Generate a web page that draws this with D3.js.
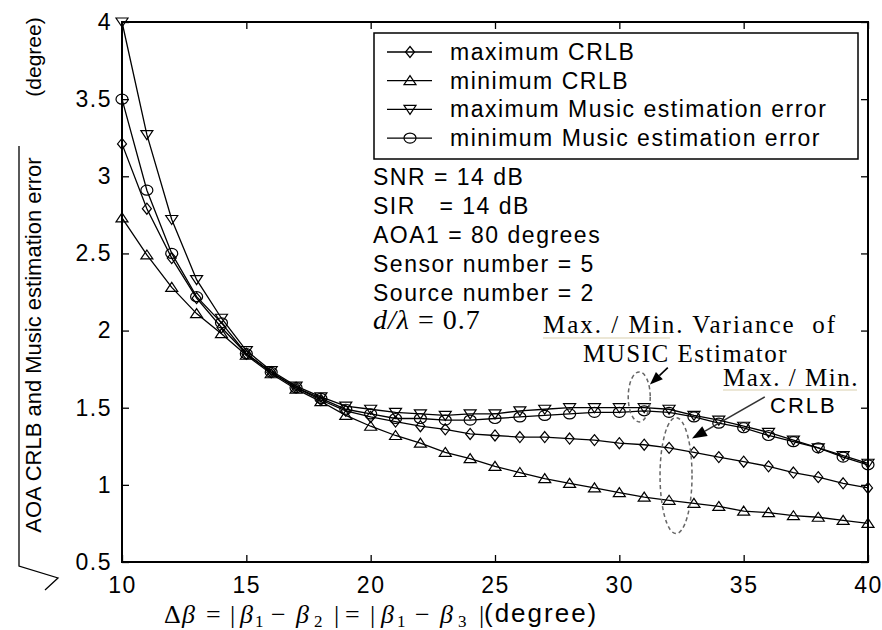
<!DOCTYPE html>
<html>
<head>
<meta charset="utf-8">
<script src="https://cdn.jsdelivr.net/npm/d3@7"></script>
<style>
  body { margin: 0; background: #fff; }
  svg { display: block; }
</style>
</head>
<body>
<svg id="chart" width="882" height="630"></svg>
<script>
// values, one per integer step of delta beta
const deltaBeta = [10, 11, 12, 13, 14, 15, 16, 17, 18, 19, 20, 21, 22, 23, 24, 25,
  26, 27, 28, 29, 30, 31, 32, 33, 34, 35, 36, 37, 38, 39, 40];
const maxCrlb = [3.21, 2.79, 2.47, 2.21, 2.02, 1.85, 1.73, 1.63, 1.55, 1.48, 1.44,
  1.41, 1.38, 1.36, 1.33, 1.32, 1.31, 1.31, 1.30, 1.29, 1.27, 1.26, 1.24, 1.21,
  1.18, 1.15, 1.12, 1.08, 1.05, 1.01, 0.98];
const minCrlb = [2.73, 2.49, 2.28, 2.11, 1.98, 1.84, 1.72, 1.62, 1.54, 1.45, 1.38,
  1.32, 1.27, 1.21, 1.17, 1.12, 1.08, 1.04, 1.01, 0.98, 0.95, 0.92, 0.90, 0.88,
  0.86, 0.83, 0.82, 0.80, 0.79, 0.77, 0.75];
const maxMusic = [4.00, 3.27, 2.72, 2.33, 2.08, 1.87, 1.74, 1.64, 1.57, 1.51, 1.49,
  1.47, 1.46, 1.45, 1.46, 1.46, 1.48, 1.49, 1.50, 1.50, 1.50, 1.50, 1.49, 1.45,
  1.42, 1.38, 1.34, 1.29, 1.24, 1.19, 1.14];
const minMusic = [3.50, 2.91, 2.50, 2.22, 2.05, 1.85, 1.73, 1.63, 1.56, 1.49, 1.46,
  1.43, 1.43, 1.42, 1.42, 1.43, 1.44, 1.45, 1.46, 1.47, 1.47, 1.48, 1.47, 1.44,
  1.40, 1.37, 1.32, 1.28, 1.24, 1.18, 1.13];

const xTicks = [10, 15, 20, 25, 30, 35, 40];
const yTicks = [0.5, 1, 1.5, 2, 2.5, 3, 3.5, 4];
const legendLabels = ["maximum CRLB", "minimum CRLB",
  "maximum Music estimation error", "minimum Music estimation error"];
const paramLines = ["SNR = 14 dB", "SIR   = 14 dB", "AOA1 = 80 degrees",
  "Sensor number = 5", "Source number = 2"];

const series = [
  { name: legendLabels[0], values: maxCrlb, marker: "diamond" },
  { name: legendLabels[1], values: minCrlb, marker: "triUp" },
  { name: legendLabels[2], values: maxMusic, marker: "triDown" },
  { name: legendLabels[3], values: minMusic, marker: "circle" }
];

const markerPaths = {
  diamond: "M0,-5.5L4.5,0L0,5.5L-4.5,0Z",
  triUp: "M0,-5L6,4L-6,4Z",
  triDown: "M0,5L6,-4L-6,-4Z",
  circle: "M-6,0A6,5 0 1,0 6,0A6,5 0 1,0 -6,0Z"
};

const sans = "Arial, 'Liberation Sans', sans-serif";
const serif = "'Times New Roman', 'Liberation Serif', serif";

const svg = d3.select("#chart").attr("font-family", sans);
const x = d3.scaleLinear().domain([10, 40]).range([122, 868]);
const y = d3.scaleLinear().domain([0.5, 4]).range([562, 22]);

// axes, MATLAB style: box with inward ticks on all four sides
const tickFont = (g) => g.selectAll("text")
  .attr("font-size", 23).attr("letter-spacing", 1.5).attr("fill", "#000");
const styleAxis = (g) => {
  g.attr("font-family", null);
  g.select(".domain").remove();
  g.selectAll("line").attr("stroke", "#000").attr("stroke-width", 1.3);
};

svg.append("g")
  .attr("transform", `translate(0,${y(0.5)})`)
  .call(d3.axisBottom(x).tickValues(xTicks).tickSize(-7).tickPadding(15).tickFormat(d3.format("d")))
  .call(styleAxis).call(tickFont);

svg.append("g")
  .attr("transform", `translate(${x(10)},0)`)
  .call(d3.axisLeft(y).tickValues(yTicks).tickSize(-7).tickPadding(10).tickFormat((d) => String(d)))
  .call(styleAxis).call(tickFont);

svg.append("g")
  .attr("transform", `translate(0,${y(4)})`)
  .call(d3.axisTop(x).tickValues(xTicks).tickSize(-7).tickFormat(""))
  .call(styleAxis);

svg.append("g")
  .attr("transform", `translate(${x(40)},0)`)
  .call(d3.axisRight(y).tickValues(yTicks).tickSize(-7).tickFormat(""))
  .call(styleAxis);

svg.append("rect")
  .attr("x", x(10)).attr("y", y(4))
  .attr("width", x(40) - x(10)).attr("height", y(0.5) - y(4))
  .attr("fill", "none").attr("stroke", "#000").attr("stroke-width", 2);

// curves
const line = d3.line().x((d, i) => x(deltaBeta[i])).y((d) => y(d));

const curves = svg.append("g").attr("class", "curves");
series.forEach((s) => {
  curves.append("path")
    .attr("d", line(s.values))
    .attr("fill", "none").attr("stroke", "#000").attr("stroke-width", 1.3);
  curves.append("g")
    .selectAll("path")
    .data(s.values)
    .join("path")
    .attr("transform", (d, i) => `translate(${x(deltaBeta[i])},${y(d)})`)
    .attr("d", markerPaths[s.marker])
    .attr("fill", "none").attr("stroke", "#000").attr("stroke-width", 1.2);
});

// legend
const legend = svg.append("g").attr("class", "legend");
legend.append("rect")
  .attr("x", 374).attr("y", 33).attr("width", 484).attr("height", 126)
  .attr("fill", "#fff").attr("stroke", "#000").attr("stroke-width", 1.5);
series.forEach((s, i) => {
  const cy = 52 + i * 28.7;
  legend.append("line")
    .attr("x1", 387).attr("x2", 432).attr("y1", cy).attr("y2", cy)
    .attr("stroke", "#000").attr("stroke-width", 1.3);
  legend.append("path")
    .attr("transform", `translate(410,${cy})`)
    .attr("d", markerPaths[s.marker])
    .attr("fill", "none").attr("stroke", "#000").attr("stroke-width", 1.2);
  legend.append("text")
    .attr("x", 450).attr("y", cy + 8)
    .attr("font-size", 23).attr("letter-spacing", 1.5)
    .text(s.name);
});

// simulation parameters
const params = svg.append("g").attr("class", "params");
paramLines.forEach((t, i) => {
  params.append("text")
    .attr("x", 373).attr("y", 185 + i * 29)
    .attr("font-size", 23).attr("letter-spacing", 1.5)
    .style("white-space", "pre")
    .text(t);
});
const dl = params.append("text")
  .attr("x", 373).attr("y", 329)
  .attr("font-family", serif)
  .attr("font-size", 28).attr("letter-spacing", 1);
dl.append("tspan").attr("font-style", "italic").text("d/λ");
dl.append("tspan").text(" = 0.7");

// annotations
const ann = svg.append("g").attr("class", "annotations");

ann.append("line")
  .attr("x1", 543).attr("x2", 670).attr("y1", 338).attr("y2", 338)
  .attr("stroke", "#e6dfc8").attr("stroke-width", 1.5);
ann.append("text")
  .attr("x", 543).attr("y", 333)
  .attr("font-family", serif).attr("font-size", 25).attr("letter-spacing", 2)
  .style("white-space", "pre")
  .text("Max. / Min. Variance  of");
ann.append("text")
  .attr("x", 583).attr("y", 362)
  .attr("font-family", serif).attr("font-size", 25).attr("letter-spacing", 1.5)
  .text("MUSIC Estimator");

ann.append("line")
  .attr("x1", 723).attr("x2", 857).attr("y1", 390).attr("y2", 390)
  .attr("stroke", "#e6dfc8").attr("stroke-width", 1.5);
ann.append("text")
  .attr("x", 723).attr("y", 386)
  .attr("font-family", serif).attr("font-size", 25).attr("letter-spacing", 1.5)
  .text("Max. / Min.");
ann.append("text")
  .attr("x", 770).attr("y", 413)
  .attr("font-size", 22).attr("letter-spacing", 2)
  .text("CRLB");

// dashed ellipses around the grouped points
ann.append("ellipse")
  .attr("cx", x(30.8)).attr("cy", y(1.57)).attr("rx", 11).attr("ry", 25)
  .attr("fill", "none").attr("stroke", "#666").attr("stroke-width", 1.5)
  .attr("stroke-dasharray", "4,3");
ann.append("ellipse")
  .attr("cx", x(32.28)).attr("cy", y(1.06)).attr("rx", 16).attr("ry", 58)
  .attr("fill", "none").attr("stroke", "#666").attr("stroke-width", 1.5)
  .attr("stroke-dasharray", "4,3");

function arrow(g, x1, y1, x2, y2, len, half, color) {
  const a = Math.atan2(y2 - y1, x2 - x1);
  const bx = x2 - len * Math.cos(a);
  const by = y2 - len * Math.sin(a);
  g.append("line")
    .attr("x1", x1).attr("y1", y1).attr("x2", bx).attr("y2", by)
    .attr("stroke", color).attr("stroke-width", 1.6);
  g.append("path")
    .attr("d", `M${x2},${y2}L${bx - half * Math.sin(a)},${by + half * Math.cos(a)}` +
      `L${bx + half * Math.sin(a)},${by - half * Math.cos(a)}Z`)
    .attr("fill", "#000");
}
arrow(ann, x(31.95), y(1.76), x(31.23), y(1.65), 13, 5, "#000");
arrow(ann, x(35.85), y(1.57), x(32.92), y(1.30), 15, 5.5, "#333");

// y axis title with the square root sign
const ytitle = svg.append("g").attr("class", "y-title");
ytitle.append("text")
  .attr("transform", "translate(41,345) rotate(-90)")
  .attr("text-anchor", "middle")
  .attr("font-size", 22)
  .text("AOA CRLB and Music estimation error");
ytitle.append("text")
  .attr("transform", "translate(41,57) rotate(-90)")
  .attr("text-anchor", "middle")
  .attr("font-size", 21)
  .text("(degree)");
ytitle.append("path")
  .attr("d", "M19,146L19,566L58,578L45,590")
  .attr("fill", "none").attr("stroke", "#000").attr("stroke-width", 1.3);

// x axis title, pieces placed along the baseline
const xTitleParts = [
  { t: "Δ", at: 164 }, { t: "β", at: 182, it: true }, { t: "=", at: 206 },
  { t: "|", at: 230 }, { t: "β", at: 240, it: true }, { t: "1", at: 255, sub: true },
  { t: "−", at: 271 }, { t: "β", at: 296, it: true }, { t: "2", at: 314, sub: true },
  { t: "|", at: 334 }, { t: "=", at: 345 }, { t: "|", at: 370 },
  { t: "β", at: 381, it: true }, { t: "1", at: 397, sub: true }, { t: "−", at: 415 },
  { t: "β", at: 440, it: true }, { t: "3", at: 458, sub: true }, { t: "|", at: 479 }
];
const xTitle = svg.append("g").attr("class", "x-title");
xTitle.selectAll("text")
  .data(xTitleParts)
  .join("text")
  .attr("x", (d) => d.at)
  .attr("y", (d) => (d.sub ? 627 : 623))
  .attr("font-family", serif)
  .attr("font-size", (d) => (d.sub ? 17 : 26))
  .attr("font-style", (d) => (d.it ? "italic" : null))
  .text((d) => d.t);
xTitle.append("text")
  .attr("x", 484).attr("y", 622)
  .attr("font-size", 26).attr("letter-spacing", 2)
  .text("(degree)");
</script>
</body>
</html>
